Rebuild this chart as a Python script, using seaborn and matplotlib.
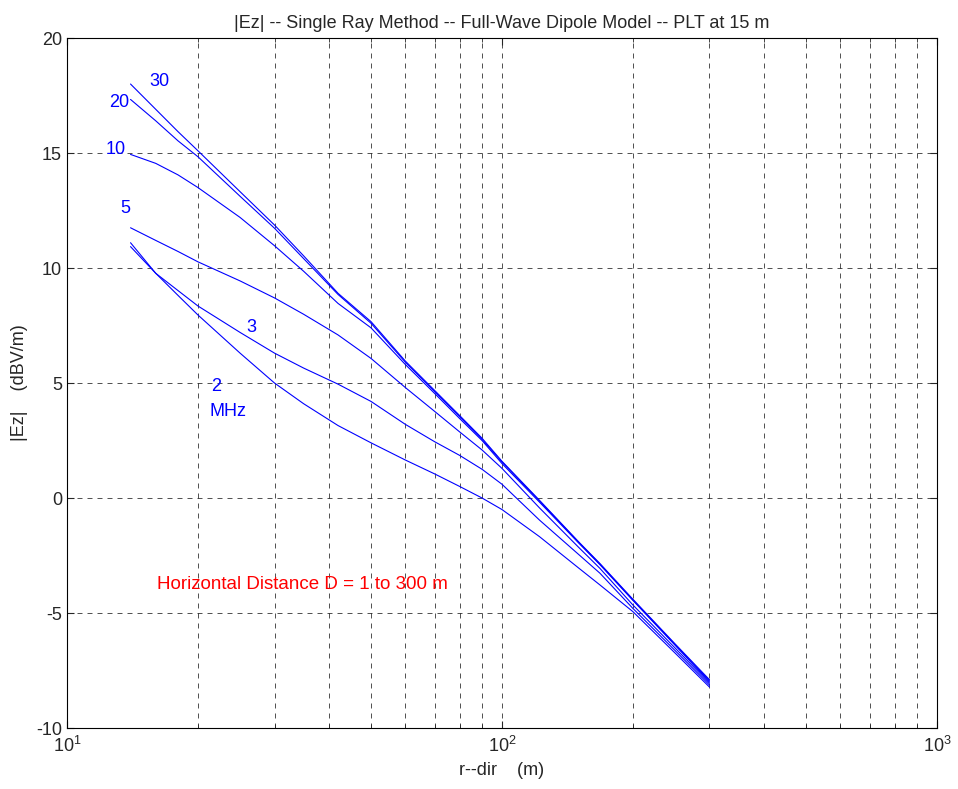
import matplotlib
matplotlib.use("Agg")
import matplotlib.pyplot as plt
import seaborn as sns
import pandas as pd
import numpy as np

# direct-ray distance (m) where each curve was sampled
r_dir = [14, 16, 18, 20, 25, 30, 35, 42, 50, 60, 70, 80, 90, 100,
         122, 150, 168, 200, 250, 300]

# |Ez| in dBV/m, one list per frequency (MHz)
ez_30 = [18.0, 16.9, 15.93, 15.1, 13.32, 11.87, 10.53, 8.9, 7.67, 5.95, 4.68, 3.58, 2.6, 1.6,
         -0.1, -1.9, -2.85, -4.4, -6.34, -7.9]
ez_20 = [17.33, 16.4, 15.53, 14.84, 13.12, 11.73, 10.41, 8.85, 7.6, 5.9, 4.63, 3.53, 2.55, 1.57,
         -0.13, -1.92, -2.87, -4.43, -6.37, -7.95]
ez_10 = [14.94, 14.55, 14.05, 13.5, 12.2, 10.97, 9.86, 8.46, 7.4, 5.8, 4.55, 3.45, 2.5, 1.5,
         -0.18, -1.95, -2.9, -4.45, -6.4, -8.0]
ez_5 = [11.75, 11.2, 10.72, 10.27, 9.44, 8.7, 7.99, 7.09, 6.07, 4.8, 3.77, 2.87, 2.09, 1.29,
        -0.43, -2.14, -3.06, -4.65, -6.52, -8.05]
ez_3 = [10.93, 9.77, 9.02, 8.35, 7.2, 6.3, 5.65, 4.95, 4.2, 3.2, 2.45, 1.85, 1.25, 0.6,
        -0.96, -2.45, -3.27, -4.8, -6.63, -8.13]
ez_2 = [11.1, 9.77, 8.81, 7.96, 6.3, 5.0, 4.1, 3.15, 2.4, 1.65, 1.05, 0.5, 0.0, -0.5,
        -1.68, -3.04, -3.78, -4.94, -6.74, -8.22]

freqs = [30, 20, 10, 5, 3, 2]
series = [ez_30, ez_20, ez_10, ez_5, ez_3, ez_2]

# curve labels: text, r, |Ez|
labels = [("30", 16.3, 18.13), ("20", 13.2, 17.2), ("10", 12.96, 15.17),
          ("5", 13.6, 12.6), ("3", 26.5, 7.43), ("2", 22.0, 4.87), ("MHz", 23.4, 3.78)]

df = pd.concat([pd.DataFrame({"r": r_dir, "ez": s, "freq": f})
                for f, s in zip(freqs, series)], ignore_index=True)

sns.set_style("ticks")
plt.rcParams["font.family"] = ["Liberation Sans", "DejaVu Sans"]
plt.rcParams["axes.unicode_minus"] = False

fig = plt.figure(figsize=(9.58, 7.89), dpi=100)
ax = fig.add_axes([0.0699, 0.0773, 0.9081, 0.8745])

sns.lineplot(data=df, x="r", y="ez", hue="freq", palette=["#0000ff"] * len(freqs),
             legend=False, estimator=None, sort=False, linewidth=0.8, ax=ax)

ax.set_xscale("log")
ax.set_xlim(10, 1000)
ax.set_ylim(-10, 20)
ax.set_yticks(np.arange(-10, 21, 5))

ax.grid(True, which="both", axis="x", color="black", linestyle=(0, (6, 6)), linewidth=0.6, alpha=0.8)
ax.grid(True, which="major", axis="y", color="black", linestyle=(0, (6, 6)), linewidth=0.6, alpha=0.8)

ax.tick_params(which="both", direction="in", top=True, right=True, labelsize=13)
ax.tick_params(which="major", length=5)
ax.tick_params(which="minor", length=3)
ax.tick_params(axis="x", which="major", pad=6)
for sp in ax.spines.values():
    sp.set_visible(True)
    sp.set_linewidth(0.8)
    sp.set_color("black")

for txt, x, y in labels:
    ax.text(x, y, txt, color="#0000ff", fontsize=13, ha="center", va="center")

ax.text(16.1, -3.78, "Horizontal Distance D = 1 to 300 m", color="red",
        fontsize=13.5, ha="left", va="center")

ax.set_title("|Ez| -- Single Ray Method -- Full-Wave Dipole Model -- PLT at 15 m",
             fontsize=13, pad=7)
ax.set_xlabel("r--dir    (m)", fontsize=13, labelpad=4)
ax.set_ylabel("|Ez|    (dBV/m)", fontsize=13, labelpad=6)

fig.savefig("out.png", dpi=100)
